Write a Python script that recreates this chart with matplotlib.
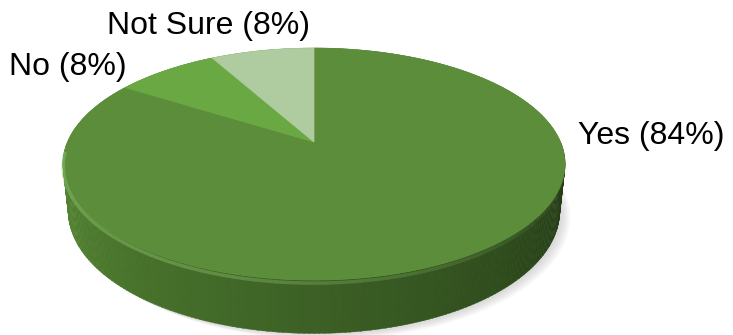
import matplotlib
matplotlib.use("Agg")
import matplotlib.pyplot as plt
import numpy as np
from matplotlib.patches import Polygon
from matplotlib.collections import LineCollection

# data
labels = ["Yes", "No", "Not Sure"]
values = [84, 8, 8]
top_colors = ["#5c8d3b", "#6aa844", "#aecca0"]

plt.rcParams['font.family'] = ['Liberation Sans', 'DejaVu Sans']

# simple perspective camera for the 3d pie
k, s, c = 246.5, 0.4536, 0.891
D = 5.26 * c
h = 0.215
cx, cy = 314, 142


def proj(u, v, w):
    sy = -v * s + w * c
    depth = D - (v * c + w * s)
    X = u * D / depth
    Y = sy * D / depth
    return cx + k * X, cy - k * Y


def circle_pts(th, w):
    u = np.cos(th)
    v = -np.sin(th)
    return proj(u, v, w)


fig = plt.figure(figsize=(7.33, 3.35), dpi=100)
ax = fig.add_axes([0, 0, 1, 1])
ax.set_xlim(0, 733)
ax.set_ylim(335, 0)
ax.axis('off')

# soft shadow under the pie
th = np.linspace(0, 2 * np.pi, 300)
bx, by = circle_pts(th, -h)
for i in range(8):
    off = 2 + i * 1.2
    ax.add_patch(Polygon(np.c_[bx + off, by + off * 0.6], closed=True,
                         fc='#a8a8a8', ec='none', alpha=0.06))

# side of the pie, drawn back to front
stops_t = [np.pi, 1.5 * np.pi, 2 * np.pi]
stops_c = [np.array([88, 140, 52]), np.array([60, 96, 37]), np.array([32, 53, 20])]
n = 360
edges = np.linspace(0, 2 * np.pi, n + 1)
strips = []
for i in range(n):
    t0, t1 = edges[i], edges[i + 1]
    tm = 0.5 * (t0 + t1)
    strips.append((np.sin(tm), t0, t1, tm))
strips.sort(key=lambda r: -r[0])
for depth, t0, t1, tm in strips:
    tt = np.array([t0, t1 + 0.002])
    x0, y0 = circle_pts(tt, 0)
    x1, y1 = circle_pts(tt[::-1], -h)
    tv = tm if tm >= np.pi else np.pi
    col = np.array([np.interp(tv, stops_t, [sc[j] for sc in stops_c]) for j in range(3)]) / 255
    ax.add_patch(Polygon(np.r_[np.c_[x0, y0], np.c_[x1, y1]], closed=True,
                         fc=col, ec=col, lw=0.3))

# top face wedges, starting at 12 o'clock and going clockwise
fracs = np.array(values) / np.sum(values)
start = np.pi / 2
px, py = proj(0, 0, 0)
for frac, col in zip(fracs, top_colors):
    end = start - frac * 2 * np.pi
    tt = np.linspace(start, end, 200)
    x, y = circle_pts(tt, 0)
    ax.add_patch(Polygon(np.r_[[[px, py]], np.c_[x, y]], closed=True,
                         fc=col, ec=col, lw=0.5))
    start = end

# light rim along the front edge of the top
tt = np.linspace(np.pi * 1.02, np.pi * 1.9, 120)
rx, ry = circle_pts(tt, -0.012)
segs = [[(rx[i], ry[i]), (rx[i + 1], ry[i + 1])] for i in range(len(tt) - 1)]
alphas = np.interp(tt[:-1], [np.pi, 1.35 * np.pi, 1.9 * np.pi], [0.5, 0.45, 0.0])
cols = [(0.55, 0.75, 0.42, a) for a in alphas]
ax.add_collection(LineCollection(segs, colors=cols, linewidths=2.5))

# labels
ax.text(578, 136, "Yes (84%)", fontsize=23, va='center', ha='left', color='black')
ax.text(9, 67, "No (8%)", fontsize=23, va='center', ha='left', color='black')
ax.text(107, 26, "Not Sure (8%)", fontsize=23, va='center', ha='left', color='black')

fig.savefig("out.png", dpi=100, facecolor='white')
